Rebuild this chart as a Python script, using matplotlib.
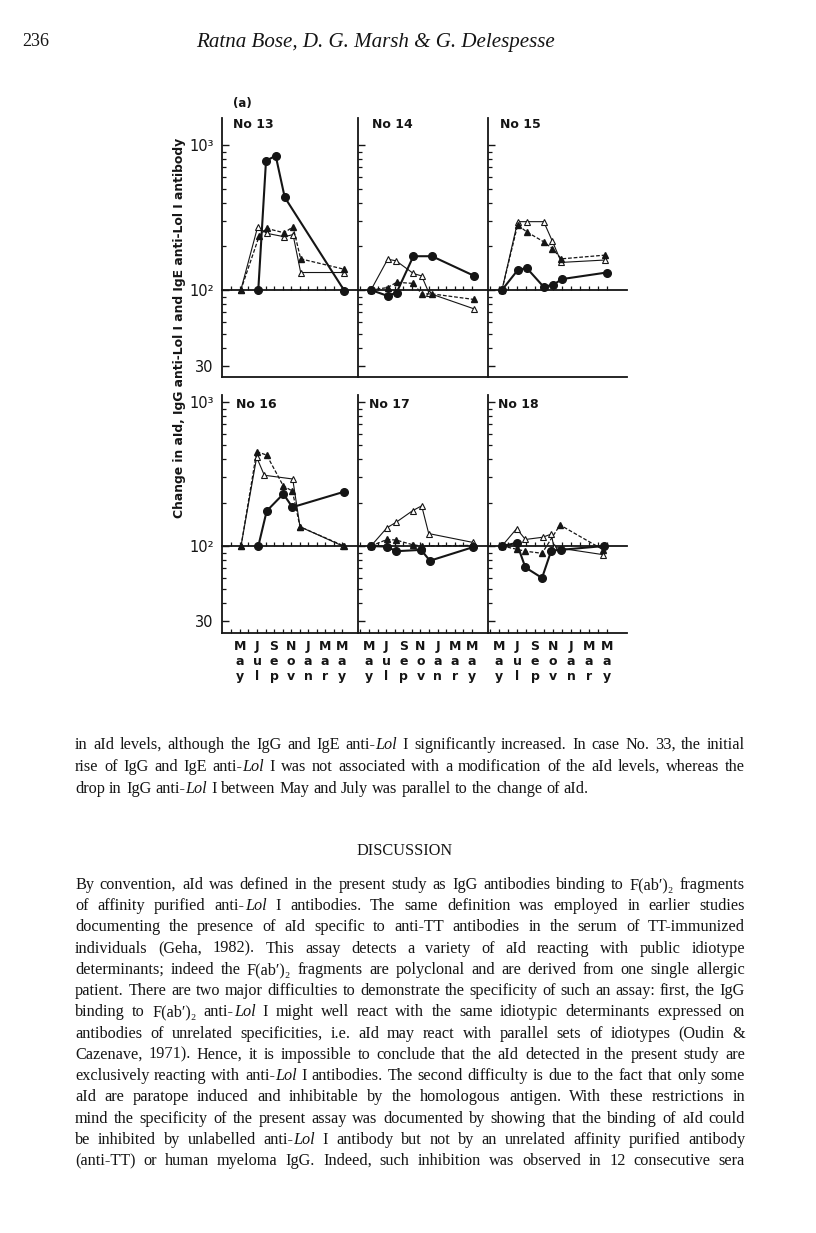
import numpy as np
import matplotlib
matplotlib.use("Agg")
import matplotlib.pyplot as plt
from matplotlib.ticker import FixedLocator, NullFormatter

# months counted from May (0) to May next year (12)
month_ticks = list(range(-1, 13))
month_labels = ["M\na\ny", "J\nu\nl", "S\ne\np", "N\no\nv", "J\na\nn", "M\na\nr", "M\na\ny"]

patients = ["No 13", "No 14", "No 15", "No 16", "No 17", "No 18"]

# aId (filled circles)
aid_x = [[2.15, 3.06, 4.2, 5.26, 12.27],
         [0.23, 2.18, 3.22, 5.17, 7.34, 12.28],
         [0.33, 2.07, 3.07, 4.97, 6.04, 7.03, 11.96],
         [2.16, 3.14, 5.1, 6.16, 12.24],
         [0.23, 2.1, 3.15, 6.07, 7.1, 12.08],
         [0.33, 1.96, 2.93, 4.78, 5.81, 6.85, 11.7]]
aid_y = [[100, 778, 843, 436, 99],
         [100, 91, 96, 171, 171, 125],
         [100, 137, 142, 105, 109, 119, 132],
         [100, 175, 230, 186, 238],
         [100, 99, 92, 94, 79, 98],
         [100, 105, 71, 60, 93, 94, 100]]

# IgG anti-Lol I (open triangles)
igg_x = [[0.1, 2.08, 3.14, 5.2, 6.24, 7.14, 12.27],
         [0.23, 2.18, 3.15, 5.17, 6.14, 7.0, 12.28],
         [0.33, 2.07, 3.07, 4.97, 5.93, 6.93, 11.8],
         [0.12, 1.96, 2.86, 6.2, 7.06, 12.08],
         [0.23, 2.1, 3.15, 5.09, 6.14, 6.96, 12.08],
         [0.33, 1.96, 2.93, 4.85, 5.81, 6.1, 11.6]]
igg_y = [[100, 273, 246, 233, 241, 132, 132],
         [100, 163, 159, 130, 125, 95, 74],
         [100, 296, 296, 296, 217, 155, 161],
         [100, 413, 310, 292, 136, 100],
         [100, 134, 146, 176, 190, 122, 106],
         [100, 132, 111, 115, 121, 98, 87]]

# IgE anti-Lol I (filled triangles, dashed)
ige_x = [[0.1, 2.27, 3.14, 5.2, 6.24, 7.14, 12.27],
         [0.23, 2.18, 3.22, 5.17, 6.14, 7.34, 12.28],
         [0.33, 2.07, 3.07, 4.97, 5.93, 6.93, 11.8],
         [0.12, 1.96, 3.14, 5.1, 6.16, 7.06, 12.24],
         [0.23, 2.1, 3.15, 5.09, 6.14, 12.08],
         [0.33, 1.96, 2.93, 4.78, 6.78, 11.6]]
ige_y = [[100, 237, 266, 248, 273, 164, 139],
         [100, 104, 113, 111, 94, 94, 86],
         [100, 281, 252, 215, 193, 164, 174],
         [100, 452, 428, 261, 241, 136, 100],
         [100, 111, 110, 102, 100, 101],
         [100, 95, 92, 89, 140, 94]]

y_ticks = [30, 100, 1000]
y_ticklabels = ["30", "10²", "10³"]
y_minor = [40, 50, 60, 70, 80, 90, 200, 300, 400, 500, 600, 700, 800, 900]

W, H = 816, 1233
fig = plt.figure(figsize=(W / 100, H / 100), dpi=100)
ink = "#151515"


def box(x0, y0, x1, y1):
    return [x0 / W, 1 - y1 / H, (x1 - x0) / W, (y1 - y0) / H]


# panel geometry in page pixels: left, right, pixel of May, pixels per month
cols = [(222, 358, 240, 8.5), (358, 488, 369, 8.58), (488, 627, 499, 9.0)]
# top, bottom, pixel of 10^2, pixels per decade
rows = [(118, 377, 290, 145), (395, 633, 546, 144)]
title_pos = [(233, 125), (372, 125), (500, 125), (236, 405), (369, 405), (498, 405)]

for i in range(6):
    r, c = divmod(i, 3)
    left, right, x0, ppm = cols[c]
    top, bottom, y100, dec = rows[r]
    ax = fig.add_axes(box(left, top, right, bottom))
    ax.set_facecolor("none")
    ax.set_yscale("log")
    lo = 10 ** (2 - (bottom - y100) / dec)
    hi = 10 ** (2 + (y100 - top) / dec)
    ax.set_ylim(lo, hi)
    ax.set_xlim((left - x0) / ppm, (right - x0) / ppm)

    ax.plot(igg_x[i], igg_y[i], color=ink, lw=0.8, marker="^", ms=4.5,
            mfc="white", mec=ink, mew=0.8, zorder=3)
    ax.plot(ige_x[i], ige_y[i], color=ink, lw=0.9, ls=(0, (3, 1.5)), marker="^",
            ms=4.5, mfc=ink, mec=ink, zorder=4)
    ax.plot(aid_x[i], aid_y[i], color=ink, lw=1.5, marker="o", ms=5.5,
            mfc=ink, mec=ink, zorder=5)

    for s in ["top", "right"]:
        ax.spines[s].set_visible(False)
    for s in ["left", "bottom"]:
        ax.spines[s].set_linewidth(1.3)
        ax.spines[s].set_color(ink)

    ax.yaxis.set_major_locator(FixedLocator(y_ticks))
    ax.yaxis.set_minor_locator(FixedLocator(y_minor))
    ax.yaxis.set_minor_formatter(NullFormatter())
    ax.tick_params(axis="y", which="major", direction="in", length=5, width=1, color=ink)
    ax.tick_params(axis="y", which="minor", direction="in", length=3, width=0.9, color=ink)
    if c == 0:
        ax.set_yticklabels(y_ticklabels, fontsize=10.5, color=ink, family="DejaVu Sans")
        ax.tick_params(axis="y", which="major", pad=6)
    else:
        ax.set_yticklabels([])

    xt = [m for m in month_ticks if ax.get_xlim()[0] < m < ax.get_xlim()[1]]
    if r == 1:
        ax.set_xticks(xt, [month_labels[m // 2] if m % 2 == 0 and m >= 0 else "" for m in xt])
        ax.tick_params(axis="x", direction="in", length=3, width=0.9, color=ink, pad=5)
        for lab in ax.get_xticklabels():
            lab.set_fontsize(9)
            lab.set_fontweight("bold")
            lab.set_linespacing(1.2)
            lab.set_color(ink)
    else:
        ax.set_xticks([])

    # baseline at 10^2 with month ticks
    pos = (2 - np.log10(lo)) / (np.log10(hi) - np.log10(lo))
    sec = ax.secondary_xaxis(pos)
    sec.set_xticks(xt)
    sec.tick_params(axis="x", direction="in", length=3, width=0.9, color=ink,
                    labelbottom=False, labeltop=False)
    for s in sec.spines.values():
        s.set_linewidth(1.3)
        s.set_color(ink)

    tx, ty = title_pos[i]
    fig.text(tx / W, 1 - ty / H, patients[i], fontsize=9, fontweight="bold",
             color=ink, va="center", ha="left")

fig.text(233 / W, 1 - 103 / H, "(a)", fontsize=8.5, fontweight="bold", color=ink,
         va="center", ha="left")

renderer = fig.canvas.get_renderer()


def fit_size(txt, target, base=10, **kw):
    t = fig.text(0, 0, txt, fontsize=base, **kw)
    w = t.get_window_extent(renderer).width
    t.remove()
    return base * target / w


ylab = "Change in aId, IgG anti-Lol I and IgE anti-Lol I antibody"
fig.text(180 / W, 1 - 328 / H, ylab, rotation=90, ha="center", va="center", color=ink,
         fontsize=fit_size(ylab, 385, fontweight="semibold"), fontweight="semibold")

serif = ["Liberation Serif", "DejaVu Serif"]
fig.text(22 / W, 1 - 42 / H, "236", fontsize=13, family=serif, color=ink, va="center")
head = "Ratna Bose, D. G. Marsh & G. Delespesse"
fig.text(196 / W, 1 - 42 / H, head, family=serif, style="italic", color=ink, va="center",
         fontsize=fit_size(head, 360, family=serif, style="italic"))

para1 = ["in aId levels, although the IgG and IgE anti-*Lol* I significantly increased. In case No. 33, the initial",
         "rise of IgG and IgE anti-*Lol* I was not associated with a modification of the aId levels, whereas the",
         "drop in IgG anti-*Lol* I between May and July was parallel to the change of aId."]
para2 = ["By convention, aId was defined in the present study as IgG antibodies binding to F(ab′)₂ fragments",
         "of affinity purified anti-*Lol* I antibodies. The same definition was employed in earlier studies",
         "documenting the presence of aId specific to anti-TT antibodies in the serum of TT-immunized",
         "individuals (Geha, 1982). This assay detects a variety of aId reacting with public idiotype",
         "determinants; indeed the F(ab′)₂ fragments are polyclonal and are derived from one single allergic",
         "patient. There are two major difficulties to demonstrate the specificity of such an assay: first, the IgG",
         "binding to F(ab′)₂ anti-*Lol* I might well react with the same idiotypic determinants expressed on",
         "antibodies of unrelated specificities, i.e. aId may react with parallel sets of idiotypes (Oudin &",
         "Cazenave, 1971). Hence, it is impossible to conclude that the aId detected in the present study are",
         "exclusively reacting with anti-*Lol* I antibodies. The second difficulty is due to the fact that only some",
         "aId are paratope induced and inhibitable by the homologous antigen. With these restrictions in",
         "mind the specificity of the present assay was documented by showing that the binding of aId could",
         "be inhibited by unlabelled anti-*Lol* I antibody but not by an unrelated affinity purified antibody",
         "(anti-TT) or human myeloma IgG. Indeed, such inhibition was observed in 12 consecutive sera"]

text_left, text_right = 75, 745


def seg_width(txt, size, italic):
    t = fig.text(0, 0, txt, fontsize=size, family=serif, style="italic" if italic else "normal")
    w = t.get_window_extent(renderer).width
    t.remove()
    return w


def word_segs(word):
    parts = word.split("*")
    return [(p, k % 2 == 1) for k, p in enumerate(parts) if p]


def line_width(line, size):
    sp = seg_width("a a", size, False) - seg_width("aa", size, False)
    words = line.split(" ")
    return sum(seg_width(p, size, it) for w in words for p, it in word_segs(w)) + sp * (len(words) - 1)


size = 10
longest = max(line_width(l.replace("*", ""), size) for l in para1 + para2)
size = size * (text_right - text_left) * 0.985 / longest


def draw_line(line, y, justify):
    words = line.split(" ")
    widths = [[seg_width(p, size, it) for p, it in word_segs(w)] for w in words]
    total = sum(sum(w) for w in widths)
    if justify:
        gap = (text_right - text_left - total) / (len(words) - 1)
    else:
        gap = seg_width("a a", size, False) - seg_width("aa", size, False)
    x = text_left
    for w, ws in zip(words, widths):
        for (p, it), sw in zip(word_segs(w), ws):
            fig.text(x / W, 1 - y / H, p, fontsize=size, family=serif, color=ink,
                     style="italic" if it else "normal", va="center", ha="left")
            x += sw
        x += gap


for k, line in enumerate(para1):
    draw_line(line, 745 + 22 * k, k < len(para1) - 1)

fig.text(405 / W, 1 - 851 / H, "DISCUSSION", fontsize=size,
         family=serif, color=ink, ha="center", va="center")

for k, line in enumerate(para2):
    draw_line(line, 885 + 21.23 * k, True)

fig.savefig("out.png", dpi=100, facecolor="white")
